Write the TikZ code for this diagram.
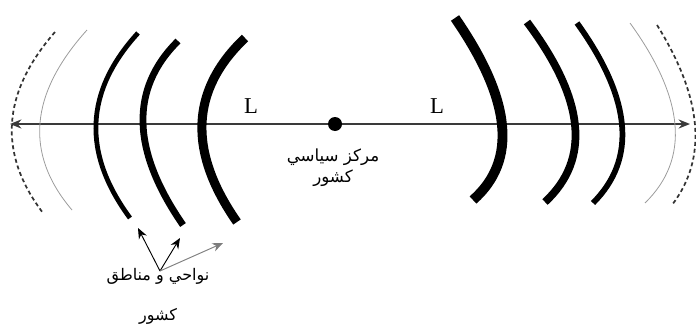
\documentclass[tikz,border=0pt]{standalone}
\usepackage{fontspec}
\setmainfont{Liberation Serif}
\newfontfamily\arabicfont[Script=Arabic]{DejaVu Sans}
\TeXXeTstate=1
\usetikzlibrary{arrows.meta,calc}
\definecolor{axisgrey}{HTML}{3A3A3A}
\definecolor{faint}{HTML}{9C9C9C}
\tikzset{
  zone/.style={line cap=butt,black},
  outerzone/.style={line width=0.6pt,faint},
  limitzone/.style={line width=1.3pt,black!80,dash pattern=on 3pt off 2.2pt},
  axisline/.style={{Stealth[length=3mm,width=2.4mm]}-{Stealth[length=3mm,width=2.4mm]},line width=1.3pt,axisgrey},
  pointer/.style={-{Stealth[length=2.8mm,width=2.3mm]},line width=0.7pt},
  dot/.style={circle,fill=black,inner sep=0pt,minimum size=10.5pt},
  lettertext/.style={font=\fontsize{17}{19}\selectfont},
  labeltext/.style={font=\arabicfont\fontsize{12.5}{16}\selectfont,align=center}
}

\begin{document}
\begin{tikzpicture}[x=0.75pt,y=-0.75pt]
\useasboundingbox (0,0) rectangle (696,325);
% main axis and political centre
\coordinate (west) at (10,124);
\coordinate (east) at (690,124);
\draw[axisline] (west)--(east);
\node[dot] (centre) at (335,124) {};
\node[lettertext] (lleft) at (251,106) {L};
\node[lettertext] (lright) at (437,106) {L};
\node[labeltext] (centrelabel) at (333,168)
  {\beginR مرکز سیاسي\endR\\\beginR کشور\endR};
% zones, thick to thin outwards
\foreach \ax/\ay/\qx/\qy/\bx/\by/\w in
  {245/38/163/116/237/222/6.8, 178/41/105.5/113/183/225/5.1,
   138/33/58/120.5/130/218/3.6,
   455/18/540/141/473/200/7.4, 527/22/614/138/545/202/5.8,
   577/23/659/137/593/203/4.3}
  \draw[zone,line width=\w pt] (\ax,\ay)
    .. controls ($(\ax,\ay)!2/3!(\qx,\qy)$) and ($(\bx,\by)!2/3!(\qx,\qy)$) .. (\bx,\by);
\foreach \ax/\ay/\qx/\qy/\bx/\by in {87/30/0.5/126/72/210, 630/23/712.5/137/645/203}
  \draw[outerzone] (\ax,\ay)
    .. controls ($(\ax,\ay)!2/3!(\qx,\qy)$) and ($(\bx,\by)!2/3!(\qx,\qy)$) .. (\bx,\by);
\foreach \ax/\ay/\qx/\qy/\bx/\by in {55/32/-25/123.5/43/213, 657/25/725.5/135/672/205}
  \draw[limitzone] (\ax,\ay)
    .. controls ($(\ax,\ay)!2/3!(\qx,\qy)$) and ($(\bx,\by)!2/3!(\qx,\qy)$) .. (\bx,\by);
% regions label
\node[labeltext,font=\arabicfont\fontsize{12}{30}\selectfont] (zones) at (158,296)
  {\beginR نواحي و مناطق\endR\\\beginR کشور\endR};
\coordinate (src) at (160,271);
\coordinate (z1) at (138,228);
\coordinate (z2) at (180,238);
\coordinate (z3) at (223,243);
\draw[pointer] (src)--(z1);
\draw[pointer] (src)--(z2);
\draw[pointer,faint!80!black] (src)--(z3);
\end{tikzpicture}
\end{document}
